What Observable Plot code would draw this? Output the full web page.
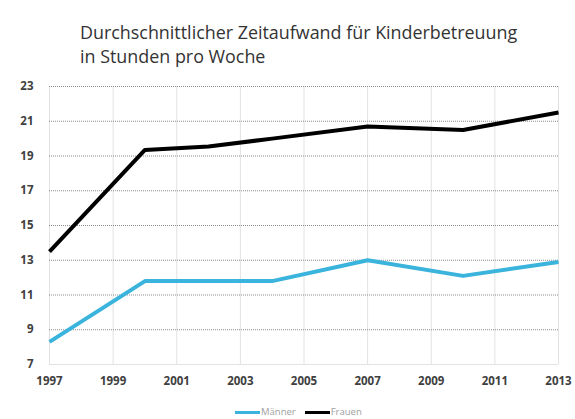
<!DOCTYPE html>
<html>
<head>
<meta charset="utf-8">
<script src="https://cdn.jsdelivr.net/npm/d3@7"></script>
<script src="https://cdn.jsdelivr.net/npm/@observablehq/plot@0.6"></script>
<style>
  body { margin: 0; background: #fff; width: 575px; height: 419px; overflow: hidden; font-family: "Open Sans", sans-serif; }
  #title { height: 72px; box-sizing: border-box; padding: 20px 0 0 80px; font-size: 17.9px; line-height: 24px; color: #333; }
  #legend { position: absolute; top: 406px; left: 235px; font-size: 9.5px; line-height: 12px; color: #a0a0a0; display: flex; align-items: center; }
  .sw { display: inline-block; width: 25px; height: 3px; margin-right: 1px; }
  #chart { position: absolute; top: 72px; left: 0; }
</style>
</head>
<body>
<div id="title">Durchschnittlicher Zeitaufwand für Kinderbetreuung<br>in Stunden pro Woche</div>
<div id="chart"></div>
<div id="legend"></div>
<script>
const seriesNames = ["Männer", "Frauen"];
const seriesColors = ["#3ab4dc", "#000000"];
const maennerYears = [1997, 2000, 2004, 2007, 2010, 2013];
const maennerValues = [8.3, 11.8, 11.8, 13.0, 12.1, 12.9];
const frauenYears = [1997, 2000, 2002, 2004, 2007, 2010, 2013];
const frauenValues = [13.5, 19.35, 19.55, 20.0, 20.7, 20.5, 21.5];
const xTicks = [1997, 1999, 2001, 2003, 2005, 2007, 2009, 2011, 2013];
const yTicks = [7, 9, 11, 13, 15, 17, 19, 21, 23];

const data = [
  ...maennerYears.map((y, i) => ({year: y, value: maennerValues[i], series: seriesNames[0]})),
  ...frauenYears.map((y, i) => ({year: y, value: frauenValues[i], series: seriesNames[1]}))
];

const chart = Plot.plot({
  width: 575,
  height: 322,
  marginLeft: 49,
  marginRight: 17,
  marginTop: 14,
  marginBottom: 30,
  style: {fontFamily: "Open Sans, sans-serif", background: "transparent"},
  x: {domain: [1997, 2013], ticks: xTicks, tickFormat: d => String(d), label: null},
  y: {domain: [7, 23], ticks: yTicks, label: null},
  color: {domain: seriesNames, range: seriesColors},
  marks: [
    Plot.ruleX(xTicks, {stroke: "#e2e2e2", strokeWidth: 1}),
    Plot.ruleY(yTicks.filter(d => d > 7), {stroke: "#8c8c8c", strokeWidth: 1, strokeDasharray: "1,1"}),
    Plot.ruleY([7], {stroke: "#e2e2e2", strokeWidth: 1}),
    Plot.axisX({ticks: xTicks, tickFormat: d => String(d), tickSize: 0, tickPadding: 12, fontSize: 11.5, fontWeight: "bold", fill: "#404040", label: null}),
    Plot.axisY({ticks: yTicks, tickSize: 0, tickPadding: 16, fontSize: 11.5, fontWeight: "bold", fill: "#404040", label: null}),
    Plot.line(data, {x: "year", y: "value", z: "series", stroke: "series", strokeWidth: 4, strokeLinejoin: "round", strokeLinecap: "butt"})
  ]
});
document.getElementById("chart").appendChild(chart);

const legend = document.getElementById("legend");
seriesNames.forEach((n, i) => {
  const item = document.createElement("span");
  item.style.display = "inline-flex";
  item.style.alignItems = "center";
  item.style.marginRight = "9px";
  item.innerHTML = `<span class="sw" style="background:${seriesColors[i]}"></span>${n}`;
  legend.appendChild(item);
});
</script>
</body>
</html>
